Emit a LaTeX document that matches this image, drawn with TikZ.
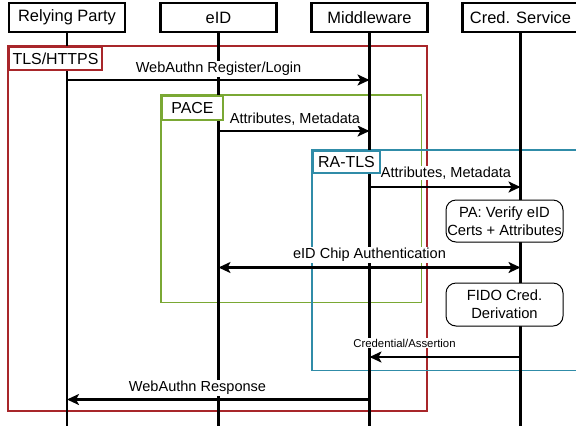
\documentclass[tikz,border=0pt]{standalone}
\usepackage{fontspec}
\setmainfont{Liberation Sans}
\usetikzlibrary{arrows.meta}
\definecolor{tlsred}{RGB}{168,38,42}
\definecolor{pacegreen}{RGB}{122,168,52}
\definecolor{rablue}{RGB}{48,140,168}
\begin{document}
\begin{tikzpicture}[x=1bp,y=-1bp,
  header/.style={draw, line width=2.5bp, fill=white, minimum width=116bp, minimum height=29bp, inner sep=0pt, font=\fontsize{16.5}{18}\selectfont},
  life/.style={line width=2.5bp},
  tipA/.tip={Stealth[length=12bp,width=11bp,inset=3bp]},
  msg/.style={line width=2.5bp, -tipA},
  bimsg/.style={line width=2.5bp, tipA-tipA},
  lbl/.style={fill=white, inner sep=1bp, font=\fontsize{14.6}{17}\selectfont},
  slbl/.style={fill=white, inner sep=1bp, font=\fontsize{11.4}{13}\selectfont},
  region/.style={line width=1.8bp},
  tag/.style={draw, fill=white, line width=2bp, inner sep=0pt, anchor=north west, font=\fontsize{16}{18}\selectfont},
  act/.style={draw, rounded corners=10bp, fill=white, line width=1bp, align=center, minimum width=117bp, inner sep=0pt, font=\fontsize{14.8}{18}\selectfont}
]
\useasboundingbox (0,0) rectangle (576,425);
% regions
\draw[region, tlsred] (8,46) rectangle (427,411);
\draw[region, pacegreen] (161,95) rectangle (421.5,302.5);
\draw[region, rablue] (312,150) rectangle (590,370.5);
% headers
\node[header] (rp) at (67,17.5) {Relying Party};
\node[header] (eid) at (218.5,17.5) {eID};
\node[header] (mw) at (369.5,17.5) {Middleware};
\node[header] (cs) at (520.5,17.5) {Cred. Service};
% lifeline ends
\coordinate (bot) at (0,430);
\draw[life] (rp.south) -- (rp |- bot);
\draw[life] (eid.south) -- (eid |- bot);
\draw[life] (mw.south) -- (mw |- bot);
\draw[life] (cs.south) -- (cs |- bot);
% message levels
\coordinate (y1) at (0,80);
\coordinate (y2) at (0,131);
\coordinate (y3) at (0,187);
\coordinate (y4) at (0,267.5);
\coordinate (y5) at (0,357);
\coordinate (y6) at (0,399.5);
\draw[msg] (rp |- y1) -- (mw |- y1);
\draw[msg] (eid |- y2) -- (mw |- y2);
\draw[msg] (mw |- y3) -- (cs |- y3);
\draw[bimsg] (eid |- y4) -- (cs |- y4);
\draw[msg] (cs |- y5) -- (mw |- y5);
\draw[msg] (mw |- y6) -- (rp |- y6);
% labels
\node[lbl] (l1) at (218.5,69) {WebAuthn Register/Login};
\node[lbl] (l2) at (295,119) {Attributes, Metadata};
\node[lbl] (l3) at (446,173) {Attributes, Metadata};
\node[lbl] (l4) at (369.5,255) {eID Chip Authentication};
\node[slbl] (l5) at (404.5,343) {Credential/Assertion};
\node[lbl] (l6) at (197.5,388) {WebAuthn Response};
% tags
\node[tag, draw=tlsred, minimum width=93bp, minimum height=23bp] (tls) at (8,46) {TLS/HTTPS};
\node[tag, draw=pacegreen, minimum width=61bp, minimum height=24bp] (pace) at (161,95) {PACE};
\node[tag, draw=rablue, minimum width=67bp, minimum height=22bp] (ratls) at (312,150) {RA-TLS};
% action boxes
\node[act, minimum height=42bp] (pa) at (504.5,221) {PA: Verify eID\\Certs + Attributes};
\node[act, minimum height=43bp] (fido) at (504.5,304.5) {FIDO Cred.\\Derivation};
\end{tikzpicture}
\end{document}
